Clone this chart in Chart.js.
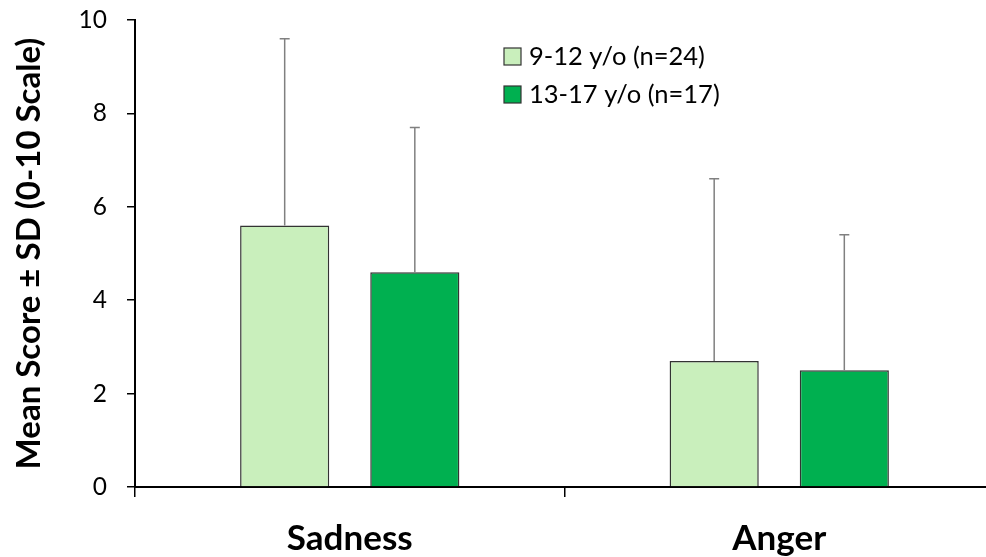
<!DOCTYPE html>
<html>
<head>
<meta charset="utf-8">
<script src="https://cdn.jsdelivr.net/npm/chart.js@4"></script>
<style>
  html, body { margin: 0; padding: 0; background: #fff; overflow: hidden; }
  #wrap { width: 994px; height: 557px; }
</style>
</head>
<body>
<div id="wrap"><canvas id="chart" width="994" height="557"></canvas></div>
<script>
// data
var categories = ['Sadness', 'Anger'];
var youngLabel = '9-12 y/o (n=24)';
var oldLabel = '13-17 y/o (n=17)';
var youngMeans = [5.6, 2.7];
var youngSD = [4.0, 3.9];
var oldMeans = [4.6, 2.5];
var oldSD = [3.1, 2.9];
var yTicks = [0, 2, 4, 6, 8, 10];

var lightGreen = '#c9efbc';
var darkGreen = '#00b050';
var fontFamily = 'Lato, "Open Sans", sans-serif';

// upward-only SD whiskers
var errorBars = {
  id: 'errorBars',
  afterDatasetsDraw: function(chart) {
    var ctx = chart.ctx;
    var yScale = chart.scales.y;
    var sds = [youngSD, oldSD];
    ctx.save();
    ctx.strokeStyle = '#808080';
    ctx.lineWidth = 1.5;
    chart.data.datasets.forEach(function(ds, di) {
      var meta = chart.getDatasetMeta(di);
      meta.data.forEach(function(bar, i) {
        var top = yScale.getPixelForValue(ds.data[i] + sds[di][i]);
        ctx.beginPath();
        ctx.moveTo(bar.x, bar.y);
        ctx.lineTo(bar.x, top);
        ctx.moveTo(bar.x - 5, top);
        ctx.lineTo(bar.x + 5, top);
        ctx.stroke();
      });
    });
    ctx.restore();
  }
};

// legend drawn inside the plot, like the original
var boxLegend = {
  id: 'boxLegend',
  afterDraw: function(chart) {
    var ctx = chart.ctx;
    ctx.save();
    ctx.font = '25.5px ' + fontFamily;
    ctx.textBaseline = 'middle';
    chart.data.datasets.forEach(function(ds, i) {
      var cy = 56 + i * 38;
      ctx.fillStyle = ds.backgroundColor;
      ctx.fillRect(504, cy - 8, 17, 17);
      ctx.strokeStyle = '#333';
      ctx.lineWidth = 1.2;
      ctx.strokeRect(504, cy - 8, 17, 17);
      ctx.fillStyle = '#000';
      ctx.fillText(ds.label, 529, cy + 1);
    });
    ctx.restore();
  }
};

new Chart(document.getElementById('chart').getContext('2d'), {
  type: 'bar',
  data: {
    labels: categories,
    datasets: [{
      label: youngLabel,
      data: youngMeans,
      backgroundColor: lightGreen,
      borderColor: '#333',
      borderWidth: 1.5
    }, {
      label: oldLabel,
      data: oldMeans,
      backgroundColor: darkGreen,
      borderColor: '#333',
      borderWidth: 1.5
    }]
  },
  options: {
    responsive: false,
    animation: false,
    layout: { padding: { top: 20, right: 0, left: 0, bottom: 0 } },
    datasets: {
      bar: { categoryPercentage: 0.606, barPercentage: 0.685 }
    },
    plugins: {
      legend: { display: false },
      tooltip: { enabled: false }
    },
    scales: {
      x: {
        z: 1,
        grid: { drawOnChartArea: false, drawTicks: true, tickLength: 10, color: '#000', lineWidth: 1.5, offset: true },
        border: { color: '#000', width: 2 },
        ticks: { color: '#000', padding: 21, font: { family: fontFamily, size: 35, weight: 'bold' } },
        afterFit: function(s) { s.height = 70; }
      },
      y: {
        min: 0,
        max: 10,
        afterBuildTicks: function(s) { s.ticks = yTicks.map(function(v) { return { value: v }; }); },
        grid: { drawOnChartArea: false, drawTicks: true, tickLength: 8, color: '#000', lineWidth: 1.5 },
        border: { color: '#000', width: 2 },
        ticks: { color: '#000', padding: 20, font: { family: fontFamily, size: 24.5 } },
        title: {
          display: true,
          text: 'Mean Score \u00b1 SD (0-10 Scale)',
          color: '#000',
          font: { family: fontFamily, size: 33, weight: 'bold' },
          padding: { top: 10, bottom: 0 }
        },
        afterFit: function(s) {
          s.width = 135;
          // tick padding should not push the plot down
          s.paddingTop = 0;
          s.paddingBottom = 0;
        }
      }
    }
  },
  plugins: [errorBars, boxLegend]
});
</script>
</body>
</html>
